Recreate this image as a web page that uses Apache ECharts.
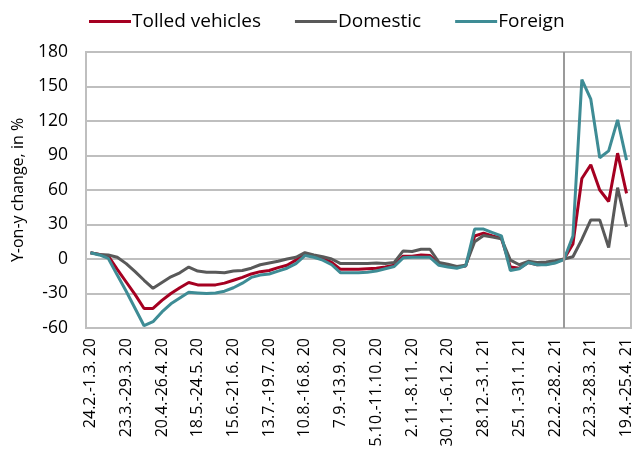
<!DOCTYPE html>
<html>
<head>
<meta charset="utf-8">
<script src="https://cdn.jsdelivr.net/npm/echarts@6/dist/echarts.min.js"></script>
<style>
  html, body { margin: 0; padding: 0; background: #fff; }
  #chart { width: 635px; height: 459px; }
</style>
</head>
<body>
<div id="chart"></div>
<script>
// weekly periods, 2020-2021
const weeks = [
  "24.2.-1.3. 20", "2.3.-8.3. 20", "9.3.-15.3. 20", "16.3.-22.3. 20",
  "23.3.-29.3. 20", "30.3.-5.4. 20", "6.4.-12.4. 20", "13.4.-19.4. 20",
  "20.4.-26.4. 20", "27.4.-3.5. 20", "4.5.-10.5. 20", "11.5.-17.5. 20",
  "18.5.-24.5. 20", "25.5.-31.5. 20", "1.6.-7.6. 20", "8.6.-14.6. 20",
  "15.6.-21.6. 20", "22.6.-28.6. 20", "29.6.-5.7. 20", "6.7.-12.7. 20",
  "13.7.-19.7. 20", "20.7.-26.7. 20", "27.7.-2.8. 20", "3.8.-9.8. 20",
  "10.8.-16.8. 20", "17.8.-23.8. 20", "24.8.-30.8. 20", "31.8.-6.9. 20",
  "7.9.-13.9. 20", "14.9.-20.9. 20", "21.9.-27.9. 20", "28.9.-4.10. 20",
  "5.10.-11.10. 20", "12.10.-18.10. 20", "19.10.-25.10. 20", "26.10.-1.11. 20",
  "2.11.-8.11. 20", "9.11.-15.11. 20", "16.11.-22.11. 20", "23.11.-29.11. 20",
  "30.11.-6.12. 20", "7.12.-13.12. 20", "14.12.-20.12. 20", "21.12.-27.12. 20",
  "28.12.-3.1. 21", "4.1.-10.1. 21", "11.1.-17.1. 21", "18.1.-24.1. 21",
  "25.1.-31.1. 21", "1.2.-7.2. 21", "8.2.-14.2. 21", "15.2.-21.2. 21",
  "22.2.-28.2. 21", "1.3.-7.3. 21", "8.3.-14.3. 21", "15.3.-21.3. 21",
  "22.3.-28.3. 21", "29.3.-4.4. 21", "5.4.-11.4. 21", "12.4.-18.4. 21",
  "19.4.-25.4. 21"
];

const tolled = [
  5.5, 4, 2.5, -9, -20, -31, -43, -43, -36, -30, -25, -20.5,
  -22.5, -22.5, -22.5, -21, -18.5, -16, -13, -11, -10, -7.5, -5.5, -1,
  4.5, 2.5, 0.5, -3, -9, -9, -9, -8.5, -8, -7, -5.5, 2.5,
  2.5, 3.5, 3, -4.5, -6, -7, -6, 20, 22.5, 20, 18, -7,
  -8, -3, -5, -4.5, -3, 0, 13, 70, 82, 60, 50, 92, 57
];
const domestic = [
  5.5, 4, 3.5, 1.5, -4, -11, -18.5, -25.5, -20.5, -15.5, -12, -7,
  -10.5, -11.5, -11.5, -12, -10.5, -10, -8, -5, -3.5, -2, 0, 1.5,
  5.5, 3.5, 2, 0, -4, -4, -4, -4, -3.5, -4, -3, 7,
  6.5, 8.5, 8.5, -3, -4.5, -6.5, -5.5, 15, 20.5, 19, 17.5, -1,
  -5, -2, -3, -2.5, -1.5, 0, 2, 17, 34, 34, 10, 62, 28
];
const foreign = [
  5.5, 3.5, 0.5, -14, -28, -43, -58, -54.5, -46, -39, -34, -29,
  -29.5, -30, -29.5, -28, -25, -21, -16, -14, -13, -10.5, -8, -4,
  3, 1.5, -1, -5, -12, -12, -12, -11.5, -10.5, -8.5, -6.5, 1,
  1.5, 1.5, 1.5, -5.5, -7, -8, -6, 26, 26, 23, 20, -10,
  -8.5, -3, -5, -5, -3.5, -0.5, 20, 156, 139, 88, 94, 121, 86
];

const markWeek = 53; // vertical separator
const font = "'Open Sans', sans-serif";

const chart = echarts.init(document.getElementById("chart"));

const mkSeries = (name, data, color) => ({
  name: name,
  type: "line",
  data: data,
  symbol: "none",
  lineStyle: { color: color, width: 3 },
  itemStyle: { color: color }
});

const option = {
  animation: false,
  legend: {
    top: 7,
    left: 84,
    itemWidth: 42,
    itemHeight: 12,
    itemGap: 34,
    icon: "path://M0,5L42,5L42,8L0,8Z",
    textStyle: { fontFamily: font, fontSize: 19, color: "#000", padding: [0, 0, 0, -4] },
    data: ["Tolled vehicles", "Domestic", "Foreign"]
  },
  grid: {
    left: 86,
    right: 4,
    top: 52,
    bottom: 131,
    show: true,
    borderColor: "#bfbfbf",
    borderWidth: 2
  },
  xAxis: {
    type: "category",
    data: weeks,
    boundaryGap: true,
    axisLine: { show: false },
    axisTick: { show: false },
    splitLine: { show: false },
    axisLabel: {
      interval: 3,
      rotate: 90,
      margin: 10,
      fontFamily: font,
      fontSize: 16,
      color: "#000"
    }
  },
  yAxis: {
    type: "value",
    min: -60,
    max: 180,
    interval: 30,
    name: "Y-on-y change, in %",
    nameLocation: "middle",
    nameGap: 60,
    nameTextStyle: { fontFamily: font, fontSize: 16, color: "#000" },
    axisLine: { show: false },
    axisTick: { show: false },
    splitLine: { lineStyle: { color: "#bfbfbf", width: 2 } },
    axisLabel: { fontFamily: font, fontSize: 17.5, color: "#000", margin: 18 }
  },
  series: [
    Object.assign(mkSeries("Tolled vehicles", tolled, "#a50021"), {
      markLine: {
        silent: true,
        symbol: "none",
        label: { show: false },
        lineStyle: { color: "#9a9a9a", width: 2, type: "solid" },
        data: [{ xAxis: markWeek }]
      }
    }),
    mkSeries("Domestic", domestic, "#595959"),
    mkSeries("Foreign", foreign, "#3e8c95")
  ]
};

chart.setOption(option);
</script>
</body>
</html>
